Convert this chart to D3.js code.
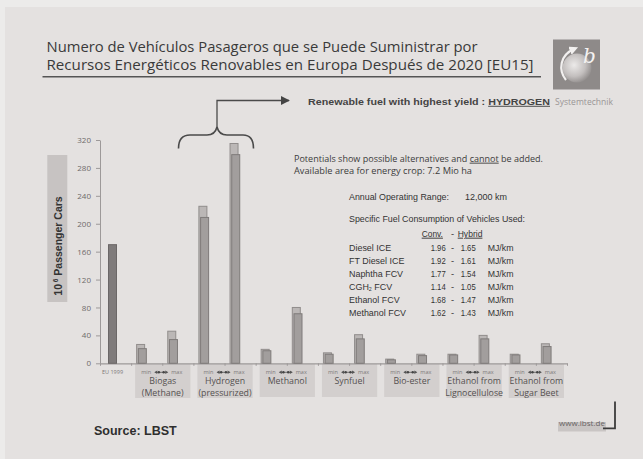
<!DOCTYPE html>
<html>
<head>
<meta charset="utf-8">
<script src="https://cdn.jsdelivr.net/npm/d3@7"></script>
<style>
  body { margin: 0; background: #e4e1e0; overflow: hidden; }
  svg { display: block; }
</style>
</head>
<body>
<svg id="chart" width="643" height="459"></svg>
<script>
// ---- data -------------------------------------------------------------
const groupNames = ["Biogas", "Hydrogen", "Methanol", "Synfuel", "Bio-ester", "Ethanol Ligno", "Ethanol Beet"];
const groupLabels = [
  ["Biogas", "(Methane)"],
  ["Hydrogen", "(pressurized)"],
  ["Methanol"],
  ["Synfuel"],
  ["Bio-ester"],
  ["Ethanol from", "Lignocellulose"],
  ["Ethanol from", "Sugar Beet"]
];
// 10^6 passenger cars, hybrid vehicles (back bar) and conventional vehicles (front bar)
const hybridMin = [27, 225, 20, 15, 6, 13, 13];
const convMin   = [21, 209, 18, 13, 5, 12, 12];
const hybridMax = [46, 315, 80, 41, 13, 40, 28];
const convMax   = [34, 299, 71, 35, 11, 35, 24];
const eu1999Label = "EU 1999";
const eu1999Value = 170;
const yTicks = [0, 40, 80, 120, 160, 200, 240, 280, 320];

const consumptionRows = [
  ["Diesel ICE", "1.96", "1.65"],
  ["FT Diesel ICE", "1.92", "1.61"],
  ["Naphtha FCV", "1.77", "1.54"],
  ["CGH2 FCV", "1.14", "1.05"],
  ["Ethanol FCV", "1.68", "1.47"],
  ["Methanol FCV", "1.62", "1.43"]
];

// ---- setup --------------------------------------------------------------
const svg = d3.select("#chart");
const FONT = "'Open Sans', 'DejaVu Sans', sans-serif";
const ARIAL = "'Liberation Sans', Arial, sans-serif";

// squeeze a text horizontally to a fraction of its natural width
function condense(sel, k) {
  sel.each(function () {
    const w = this.getComputedTextLength();
    d3.select(this).attr("textLength", w * k).attr("lengthAdjust", "spacingAndGlyphs");
  });
  return sel;
}

// slide background with a light outer edge
svg.append("rect").attr("width", 643).attr("height", 459).attr("fill", "#ecebea");
svg.append("rect").attr("x", 5).attr("y", 7).attr("width", 638).attr("height", 452).attr("fill", "#e4e1e0");

const slots = [eu1999Label].concat(groupNames.flatMap(g => [g + "|min", g + "|max"]));
const x = d3.scaleBand().domain(slots).range([100, 567]).paddingInner(0).paddingOuter(0);
const y = d3.scaleLinear().domain([0, 320]).range([363.3, 140]);
const bw = x.bandwidth();

// ---- title ----------------------------------------------------------------
const title = svg.append("g").attr("font-family", FONT).attr("fill", "#3a3a3a").attr("font-size", 14.5);
title.append("text").attr("x", 46.5).attr("y", 52.4)
  .attr("textLength", 431).attr("lengthAdjust", "spacingAndGlyphs")
  .text("Numero de Vehículos Pasageros que se Puede Suministrar por");
title.append("text").attr("x", 46.5).attr("y", 70.3)
  .attr("textLength", 487).attr("lengthAdjust", "spacingAndGlyphs")
  .text("Recursos Energéticos Renovables en Europa Después de 2020 [EU15]");
svg.append("line").attr("x1", 42.5).attr("x2", 541).attr("y1", 76.7).attr("y2", 76.7)
  .attr("stroke", "#555").attr("stroke-width", 1.6);

// ---- logo -------------------------------------------------------------------
const defs = svg.append("defs");
const rg = defs.append("radialGradient").attr("id", "globe").attr("cx", "40%").attr("cy", "40%").attr("r", "65%");
rg.append("stop").attr("offset", "0%").attr("stop-color", "#eceae9");
rg.append("stop").attr("offset", "60%").attr("stop-color", "#c3bfbe");
rg.append("stop").attr("offset", "100%").attr("stop-color", "#8f8b8a");
defs.append("marker").attr("id", "arrowHead").attr("viewBox", "0 0 10 10").attr("refX", 9).attr("refY", 5)
  .attr("markerWidth", 7).attr("markerHeight", 7).attr("orient", "auto")
  .append("path").attr("d", "M0,0 L10,5 L0,10 Z").attr("fill", "#444");
defs.append("marker").attr("id", "logoHead").attr("viewBox", "0 0 10 10").attr("refX", 5).attr("refY", 5)
  .attr("markerWidth", 4).attr("markerHeight", 4).attr("orient", "auto")
  .append("path").attr("d", "M0,0 L10,5 L0,10 Z").attr("fill", "#f2f0ef");

const logo = svg.append("g");
logo.append("rect").attr("x", 553).attr("y", 39.5).attr("width", 47).attr("height", 50).attr("fill", "#8e8a89");
logo.append("circle").attr("cx", 577).attr("cy", 68).attr("r", 14.5).attr("fill", "url(#globe)");
logo.append("path").attr("d", "M566,80 C558,70 560,55 574,49")
  .attr("fill", "none").attr("stroke", "#f2f0ef").attr("stroke-width", 2.2).attr("marker-end", "url(#logoHead)");
logo.append("text").attr("x", 583).attr("y", 63).attr("font-family", "'DejaVu Serif', serif")
  .attr("font-style", "italic").attr("font-size", 20).attr("fill", "#f4f2f1").text("b");

// ---- highlight bracket + annotation ----------------------------------------
svg.append("path")
  .attr("d", "M178.5,148.5 Q178.5,135 190,135 L207,135 Q215,135 217,127 Q219,135 227,135 L243,135 Q253.5,135 253.5,148.5")
  .attr("fill", "none").attr("stroke", "#4a4a4a").attr("stroke-width", 1.6);
svg.append("path").attr("d", "M217,127 L217,100.5 L289,100.5")
  .attr("fill", "none").attr("stroke", "#4a4a4a").attr("stroke-width", 1.3).attr("marker-end", "url(#arrowHead)");
const ann = svg.append("text").attr("x", 308).attr("y", 104.8).attr("font-family", ARIAL)
  .attr("font-weight", "bold").attr("font-size", 9.5).attr("fill", "#444")
  .attr("textLength", 242).attr("lengthAdjust", "spacingAndGlyphs");
ann.append("tspan").text("Renewable fuel with highest yield : ");
ann.append("tspan").attr("text-decoration", "underline").text("HYDROGEN");
svg.append("text").attr("x", 555).attr("y", 104.8).attr("font-family", FONT).attr("font-size", 9)
  .attr("fill", "#9a9696").attr("textLength", 58).attr("lengthAdjust", "spacingAndGlyphs").text("Systemtechnik");

// ---- y axis title -----------------------------------------------------------
svg.append("rect").attr("x", 47.3).attr("y", 155).attr("width", 20).attr("height", 147).attr("fill", "#c7c3c2");
const yTitle = svg.append("text").attr("transform", "translate(62,246) rotate(-90)")
  .attr("text-anchor", "middle").attr("font-family", ARIAL).attr("font-weight", "bold")
  .attr("font-size", 10.5).attr("fill", "#333");
yTitle.append("tspan").text("10");
yTitle.append("tspan").attr("font-size", 6.5).attr("dy", -4).text(" 6");
yTitle.append("tspan").attr("dy", 4).text("  Passenger Cars");

// ---- axes ----------------------------------------------------------------
const yAxis = svg.append("g").attr("transform", "translate(100,0)")
  .call(d3.axisLeft(y).tickValues(yTicks).tickSize(4).tickPadding(5).tickSizeOuter(0));
yAxis.select(".domain").attr("stroke", "#9d9999");
yAxis.selectAll(".tick line").attr("stroke", "#9d9999");
yAxis.selectAll(".tick text").attr("font-family", FONT).attr("font-size", 8).attr("fill", "#6e6a6a");

// category boxes under the axis
const boxes = svg.append("g");
groupNames.forEach((g, i) => {
  const x0 = x(g + "|min") + 4;
  const x1 = x(g + "|max") + bw - 3;
  const cx = (x0 + x1) / 2;
  boxes.append("rect").attr("x", x0).attr("y", 364).attr("width", x1 - x0)
    .attr("height", groupLabels[i].length > 1 ? 34 : 33).attr("fill", "#d3cfce");
  // min <-> max marker row
  const mx = x(g + "|min") + 15, Mx = x(g + "|max") + 14.5, ax = x(g + "|max") - 1;
  const row = boxes.append("g").attr("font-family", FONT).attr("font-size", 5.5).attr("fill", "#7c7878");
  row.append("text").attr("x", mx).attr("y", 374.2).attr("text-anchor", "middle").text("min");
  row.append("text").attr("x", Mx).attr("y", 374.2).attr("text-anchor", "middle").text("max");
  row.append("line").attr("x1", ax - 6).attr("x2", ax + 6).attr("y1", 372.3).attr("y2", 372.3)
    .attr("stroke", "#555").attr("stroke-width", 0.8);
  [-1, 1].forEach(s => {
    row.append("path").attr("d", `M${ax + s * 7},372.3 L${ax + s * 4},370.6 L${ax + s * 4},374 Z`).attr("fill", "#555");
    row.append("circle").attr("cx", ax + s * 2.4).attr("cy", 372.3).attr("r", 1.2).attr("fill", "#444");
  });
  groupLabels[i].forEach((line, k) => {
    boxes.append("text").attr("x", cx).attr("y", 384 + k * 11.5).attr("text-anchor", "middle")
      .attr("font-family", FONT).attr("font-size", 8.8).attr("fill", "#555151").text(line);
  });
});
svg.append("text").attr("x", x(eu1999Label) + 12.5).attr("y", 374.2).attr("text-anchor", "middle")
  .attr("font-family", FONT).attr("font-size", 5.5).attr("fill", "#7c7878").text(eu1999Label);

// x axis: slot boundaries
const slotIdx = d3.scaleLinear().domain([0, slots.length]).range([100, 567]);
const xAxis = svg.append("g").attr("transform", "translate(0,363.3)")
  .call(d3.axisBottom(slotIdx).tickValues(d3.range(0, slots.length + 1)).tickSize(2.5).tickFormat("").tickSizeOuter(0));
xAxis.select(".domain").attr("stroke", "#9d9999").attr("stroke-width", 1.2);
xAxis.selectAll(".tick line").attr("stroke", "#9d9999");

// ---- bars -------------------------------------------------------------------
const bars = svg.append("g");
bars.append("rect").attr("x", x(eu1999Label) + 8.5).attr("y", y(eu1999Value))
  .attr("width", 8).attr("height", y(0) - y(eu1999Value))
  .attr("fill", "#7f7b7b").attr("stroke", "#6b6767").attr("stroke-width", 1);

function pair(slot, back, front) {
  const s = x(slot);
  bars.append("rect").attr("x", s + 5.5).attr("y", y(back)).attr("width", 8).attr("height", y(0) - y(back))
    .attr("fill", "#bbb7b6").attr("stroke", "#918d8c").attr("stroke-width", 1);
  bars.append("rect").attr("x", s + 7.2).attr("y", y(front)).attr("width", 8).attr("height", y(0) - y(front))
    .attr("fill", "#a29e9d").attr("stroke", "#7f7b7a").attr("stroke-width", 1);
}
groupNames.forEach((g, i) => {
  pair(g + "|min", hybridMin[i], convMin[i]);
  pair(g + "|max", hybridMax[i], convMax[i]);
});

// ---- notes --------------------------------------------------------------------
const notes = svg.append("g").attr("font-family", FONT).attr("font-size", 9).attr("fill", "#3c3c3c");
const n1 = notes.append("text").attr("x", 294).attr("y", 161.7)
  .attr("textLength", 249).attr("lengthAdjust", "spacingAndGlyphs");
n1.append("tspan").text("Potentials show possible alternatives and ");
n1.append("tspan").attr("text-decoration", "underline").text("cannot");
n1.append("tspan").text(" be added.");
notes.append("text").attr("x", 294).attr("y", 174.3)
  .attr("textLength", 178).attr("lengthAdjust", "spacingAndGlyphs")
  .text("Available area for energy crop: 7.2 Mio ha");

const tbl = svg.append("g").attr("font-family", ARIAL).attr("font-size", 9.3).attr("fill", "#333");
tbl.append("text").attr("x", 349).attr("y", 200).attr("textLength", 100).attr("lengthAdjust", "spacingAndGlyphs")
  .text("Annual Operating Range:");
tbl.append("text").attr("x", 465).attr("y", 200).attr("textLength", 42).attr("lengthAdjust", "spacingAndGlyphs")
  .text("12,000 km");
tbl.append("text").attr("x", 349).attr("y", 222.3).attr("textLength", 176).attr("lengthAdjust", "spacingAndGlyphs")
  .text("Specific Fuel Consumption of Vehicles Used:");
condense(tbl.append("text").attr("x", 421.7).attr("y", 236.7).attr("text-decoration", "underline").text("Conv."), 0.9);
tbl.append("text").attr("x", 451).attr("y", 236.7).text("-");
condense(tbl.append("text").attr("x", 457.7).attr("y", 236.7).attr("text-decoration", "underline").text("Hybrid"), 0.92);

consumptionRows.forEach((r, i) => {
  const yy = 251 + i * 12.95;
  const name = tbl.append("text").attr("x", 349).attr("y", yy);
  if (r[0] === "CGH2 FCV") {
    name.append("tspan").text("CGH");
    name.append("tspan").attr("font-size", 5.5).attr("dy", 1.5).text("2");
    name.append("tspan").attr("dy", -1.5).text(" FCV");
  } else {
    name.text(r[0]);
  }
  condense(name, 0.96);
  condense(tbl.append("text").attr("x", 430.7).attr("y", yy).text(r[1]), 0.83);
  tbl.append("text").attr("x", 451).attr("y", yy).text("-");
  condense(tbl.append("text").attr("x", 460.7).attr("y", yy).text(r[2]), 0.83);
  condense(tbl.append("text").attr("x", 487.7).attr("y", yy).text("MJ/km"), 0.94);
});

// ---- footer -------------------------------------------------------------------
svg.append("text").attr("x", 94).attr("y", 435).attr("font-family", ARIAL).attr("font-weight", "bold")
  .attr("font-size", 12.5).attr("fill", "#2e2e2e").text("Source: LBST");
svg.append("rect").attr("x", 558).attr("y", 422).attr("width", 48).attr("height", 9.5).attr("fill", "#c9c5c4");
svg.append("text").attr("x", 559).attr("y", 426).attr("font-family", FONT).attr("font-size", 8)
  .attr("fill", "#6a6666").attr("textLength", 46).attr("lengthAdjust", "spacingAndGlyphs").text("www.lbst.de");
svg.append("path").attr("d", "M603,428.3 L615,428.3 L615,401.5").attr("fill", "none")
  .attr("stroke", "#3c3c3c").attr("stroke-width", 1.8);
</script>
</body>
</html>
